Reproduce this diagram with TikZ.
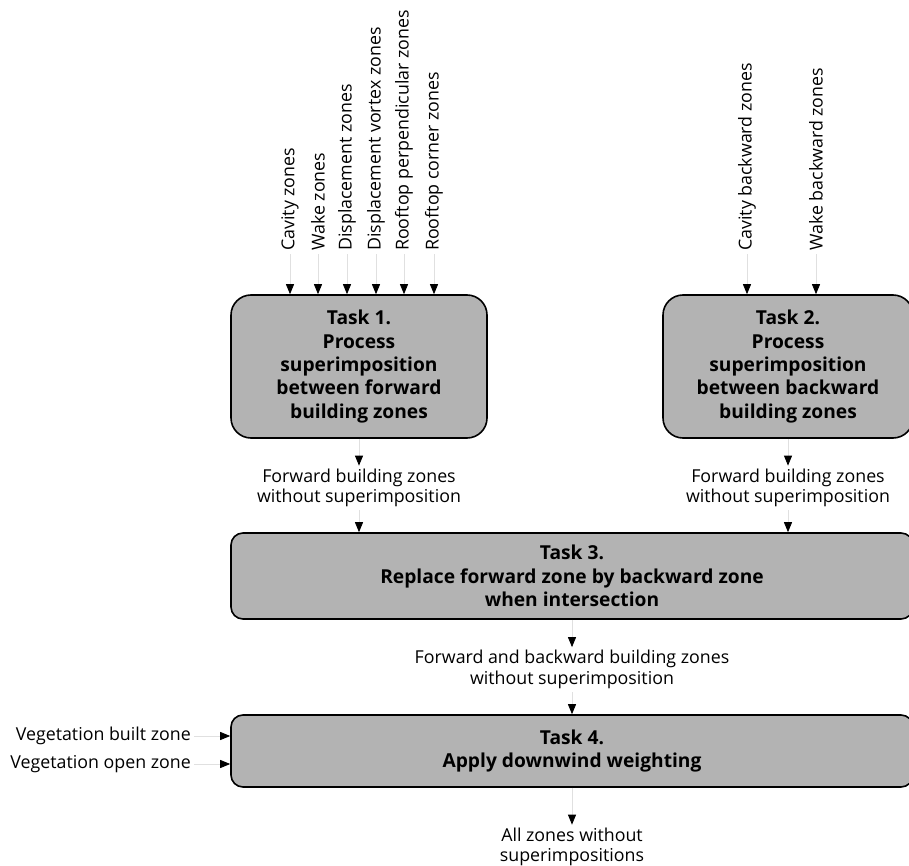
\documentclass[tikz,border=0pt]{standalone}
\usepackage{fontspec}
\setmainfont{Open Sans}
\usetikzlibrary{arrows.meta}
\definecolor{boxgray}{HTML}{B3B3B3}
\tikzset{
    task/.style={draw=black, line width=1.6pt, fill=boxgray, align=center,
        font=\bfseries\fontsize{19.2}{23.3}\selectfont},
    lbl/.style={align=center, inner sep=3pt, font=\fontsize{17.8}{20.5}\selectfont},
    flow/.style={draw=black!12, line width=0.8pt,
        -{Triangle[length=10pt,width=8pt,color=black]}},
}
\begin{document}
\begin{tikzpicture}[x=1pt,y=-1pt]
            \clip (0,0) rectangle (909,866);

            % tasks
            \node[task, rounded corners=20pt, minimum width=256pt, minimum height=143pt] (T1) at (359,366.5)
                {Task 1.\\Process\\superimposition\\between forward\\building zones};
            \node[task, rounded corners=20pt, minimum width=250pt, minimum height=143pt] (T2) at (788,366.5)
                {Task 2.\\Process\\superimposition\\between backward\\building zones};
            \node[task, rounded corners=12pt, minimum width=682pt, minimum height=86pt] (T3) at (572,576)
                {Task 3.\\Replace forward zone by backward zone\\when intersection};
            \node[task, rounded corners=12pt, minimum width=682pt, minimum height=72pt] (T4) at (572,751)
                {Task 4.\\Apply downwind weighting};

            % inputs
            \node[lbl, rotate=90, anchor=west] (C1) at (290,254) {Cavity zones};
            \node[lbl, rotate=90, anchor=west] (C2) at (318,254) {Wake zones};
            \node[lbl, rotate=90, anchor=west] (C3) at (347,254) {Displacement zones};
            \node[lbl, rotate=90, anchor=west] (C4) at (376,254) {Displacement vortex zones};
            \node[lbl, rotate=90, anchor=west] (C5) at (404,254) {Rooftop perpendicular zones};
            \node[lbl, rotate=90, anchor=west] (C6) at (434,254) {Rooftop corner zones};
            \node[lbl, rotate=90, anchor=west] (B1) at (747,254) {Cavity backward zones};
            \node[lbl, rotate=90, anchor=west] (B2) at (816,254) {Wake backward zones};
            \node[lbl, anchor=east] (V1) at (194,736) {Vegetation built zone};
            \node[lbl, anchor=east] (V2) at (194,764) {Vegetation open zone};

            % intermediate results
            \node[lbl] (F1) at (359,488) {Forward building zones\\without superimposition};
            \node[lbl] (F2) at (788,488) {Forward building zones\\without superimposition};
            \node[lbl] (F3) at (572,669.5) {Forward and backward building zones\\without superimposition};
            \node[lbl] (R) at (572,847) {All zones without\\superimpositions};

            \foreach \n in {C1,C2,C3,C4,C5,C6}
                \draw[flow] (\n.west) -- (\n.west |- T1.north);
            \foreach \n in {B1,B2}
                \draw[flow] (\n.west) -- (\n.west |- T2.north);
            \draw[flow] (V1.east) -- (V1.east -| T4.west);
            \draw[flow] (V2.east) -- (V2.east -| T4.west);

            \draw[flow] (T1.south) -- (F1.north);
            \draw[flow] (F1.south) -- (F1.south |- T3.north);
            \draw[flow] (T2.south) -- (F2.north);
            \draw[flow] (F2.south) -- (F2.south |- T3.north);
            \draw[flow] (T3.south) -- (F3.north);
            \draw[flow] (F3.south) -- (F3.south |- T4.north);
            \draw[flow] (T4.south) -- (R.north);
        \end{tikzpicture}
\end{document}
